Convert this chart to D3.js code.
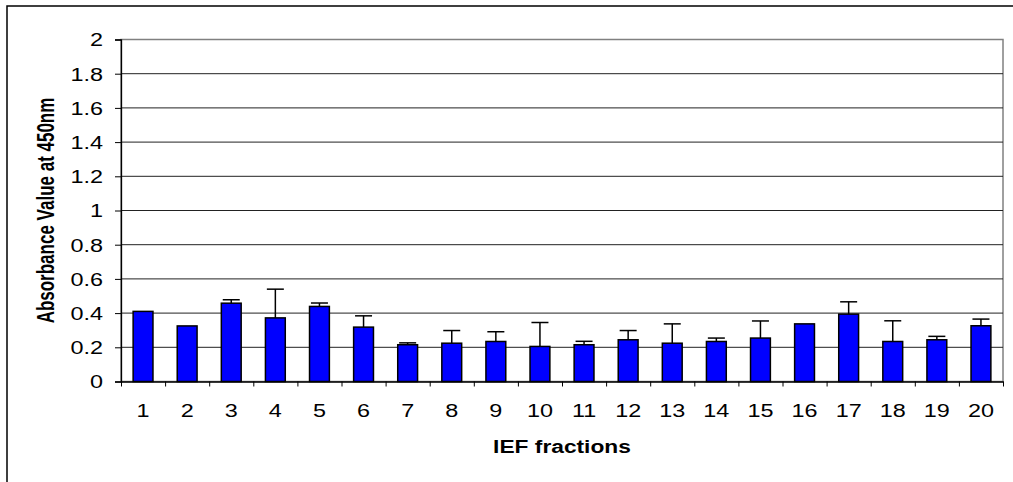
<!DOCTYPE html>
<html>
<head>
<meta charset="utf-8">
<script src="https://cdn.jsdelivr.net/npm/d3@7"></script>
<style>
  html, body { margin: 0; padding: 0; background: #fff; }
  svg { display: block; }
  text { font-family: "Liberation Sans", Arial, sans-serif; fill: #000; }
</style>
</head>
<body>
<svg id="chart" width="1013" height="482"></svg>
<script>
// IEF fraction numbers, mean absorbance and upper error (SD)
const fractions = ["1","2","3","4","5","6","7","8","9","10","11","12","13","14","15","16","17","18","19","20"];
const absorbance = [0.41, 0.325, 0.458, 0.372, 0.439, 0.318, 0.215, 0.224, 0.234, 0.205,
                    0.215, 0.244, 0.224, 0.234, 0.254, 0.337, 0.394, 0.234, 0.244, 0.326];
const errorUp = [0, 0, 0.02, 0.168, 0.02, 0.066, 0.011, 0.074, 0.057, 0.14,
                 0.02, 0.054, 0.113, 0.02, 0.1, 0, 0.072, 0.121, 0.02, 0.039];
const yTicks = [0, 0.2, 0.4, 0.6, 0.8, 1, 1.2, 1.4, 1.6, 1.8, 2];

const svg = d3.select("#chart");
const plot = { left: 121, right: 1003, top: 39.5, bottom: 381.5 };
const stretch = 1.3; // wide glyphs

// outer chart frame
svg.append("rect")
  .attr("x", 7).attr("y", 6).attr("width", 1030).attr("height", 500)
  .attr("fill", "none").attr("stroke", "#000").attr("stroke-width", 1.5);

const y = d3.scaleLinear().domain([0, 2]).range([plot.bottom, plot.top]);
const x = d3.scaleBand().domain(fractions).range([plot.left, plot.right])
  .paddingInner(0.55).paddingOuter(0.275);
const xEdge = d3.scaleLinear().domain([0, fractions.length]).range([plot.left, plot.right]);

// plot area border
svg.append("rect")
  .attr("x", plot.left).attr("y", plot.top)
  .attr("width", plot.right - plot.left).attr("height", plot.bottom - plot.top)
  .attr("fill", "none").attr("stroke", "#808080").attr("stroke-width", 1.5);

// horizontal gridlines
svg.append("g")
  .selectAll("line")
  .data(yTicks.filter(d => d > 0))
  .join("line")
  .attr("x1", plot.left).attr("x2", plot.right)
  .attr("y1", d => y(d)).attr("y2", d => y(d))
  .attr("stroke", d => d === 2 ? "#808080" : "#222").attr("stroke-width", 1);

// error bars (upper only)
const eb = svg.append("g").attr("stroke", "#000").attr("stroke-width", 1.5);
fractions.forEach((f, i) => {
  if (errorUp[i] <= 0) return;
  const cx = x(f) + x.bandwidth() / 2;
  const top = y(absorbance[i] + errorUp[i]);
  eb.append("line").attr("x1", cx).attr("x2", cx).attr("y1", y(absorbance[i])).attr("y2", top);
  eb.append("line").attr("x1", cx - 8.5).attr("x2", cx + 8.5).attr("y1", top).attr("y2", top);
});

// bars
svg.append("g")
  .selectAll("rect")
  .data(fractions)
  .join("rect")
  .attr("x", d => x(d))
  .attr("width", x.bandwidth())
  .attr("y", (d, i) => y(absorbance[i]))
  .attr("height", (d, i) => y(0) - y(absorbance[i]))
  .attr("fill", "#0000ff")
  .attr("stroke", "#000")
  .attr("stroke-width", 1.5);

function widen(sel) {
  sel.each(function () {
    const w = this.getComputedTextLength();
    d3.select(this).attr("textLength", w * stretch).attr("lengthAdjust", "spacingAndGlyphs");
  });
}

// y axis
const yAxis = svg.append("g")
  .attr("transform", `translate(${plot.left},0)`)
  .call(d3.axisLeft(y).tickValues(yTicks).tickFormat(d3.format("~g")).tickSize(6).tickPadding(12));
yAxis.select(".domain").attr("stroke", "#000").attr("stroke-width", 1.3);
yAxis.selectAll(".tick line").attr("stroke", "#000");
yAxis.selectAll("text")
  .attr("font-size", 18).attr("dy", "0.36em")
  .style("font-family", "'Liberation Sans', Arial, sans-serif")
  .call(widen);

// x axis: boundary ticks
const xTicksG = svg.append("g")
  .attr("transform", `translate(0,${plot.bottom})`)
  .call(d3.axisBottom(xEdge).tickValues(d3.range(0, fractions.length + 1)).tickFormat("").tickSize(5).tickSizeOuter(0));
xTicksG.select(".domain").attr("stroke", "#000").attr("stroke-width", 1.3);
xTicksG.selectAll(".tick line").attr("stroke", "#000");

// x axis: category labels
const xLab = svg.append("g")
  .attr("transform", `translate(0,${plot.bottom})`)
  .call(d3.axisBottom(x).tickSize(0).tickPadding(23));
xLab.select(".domain").remove();
xLab.selectAll("text")
  .attr("font-size", 18)
  .style("font-family", "'Liberation Sans', Arial, sans-serif")
  .call(widen);

// axis titles
svg.append("text")
  .attr("x", (plot.left + plot.right) / 2).attr("y", 453)
  .attr("text-anchor", "middle")
  .attr("font-size", 17.5).attr("font-weight", "bold")
  .text("IEF fractions")
  .call(widen);

svg.append("text")
  .attr("transform", `translate(54,${(plot.top + plot.bottom) / 2}) scale(1.4,1) rotate(-90)`)
  .attr("text-anchor", "middle")
  .attr("font-size", 17).attr("font-weight", "bold")
  .text("Absorbance Value at 450nm");
</script>
</body>
</html>
